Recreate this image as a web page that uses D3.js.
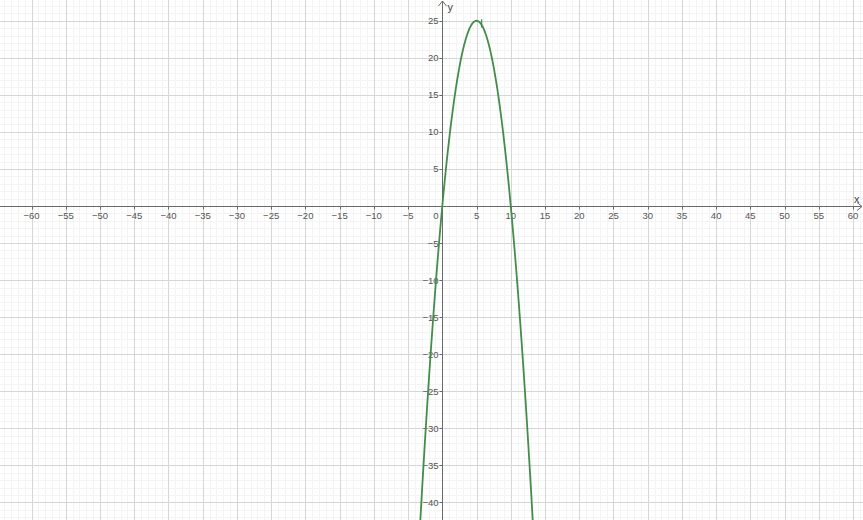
<!DOCTYPE html>
<html><head><meta charset="utf-8">
<script src="https://cdn.jsdelivr.net/npm/d3@7"></script>
<style>html,body{margin:0;padding:0;background:#fff;overflow:hidden}</style>
</head><body>
<svg id="c" width="863" height="520"></svg>
<script>
// Data
const xTicks = [-60,-55,-50,-45,-40,-35,-30,-25,-20,-15,-10,-5,5,10,15,20,25,30,35,40,45,50,55,60];
const yTicks = [25,20,15,10,5,-5,-10,-15,-20,-25,-30,-35,-40];
const coefA = -1, coefB = 10, coefC = 0; // y = -x^2 + 10x
const curveXs = d3.range(-3.4, 13.41, 0.05);
const curveYs = curveXs.map(x => coefA*x*x + coefB*x + coefC);

const W = 863, H = 520;
const x0 = 442.3, kx = 6.846, y0 = 206, ky = 7.41;
const x = d3.scaleLinear().domain([-x0/kx, (W-x0)/kx]).range([0, W]);
const y = d3.scaleLinear().domain([(H-y0)/-ky, y0/ky]).range([H, 0]);

const svg = d3.select("#c");
const [xa, xb] = x.domain(), [ya, yb] = y.domain();

// minor grid
const minorX = d3.range(Math.ceil(xa), Math.floor(xb)+1).filter(v => v % 5 !== 0);
const minorY = d3.range(Math.ceil(ya), Math.floor(yb)+1).filter(v => v % 5 !== 0);
const g = svg.append("g").attr("shape-rendering","crispEdges");
g.selectAll(".mx").data(minorX).enter().append("line")
  .attr("x1", d=>Math.round(x(d))+0.5).attr("x2", d=>Math.round(x(d))+0.5).attr("y1",0).attr("y2",H)
  .attr("stroke","#f4f4f4").attr("stroke-width",1);
g.selectAll(".my").data(minorY).enter().append("line")
  .attr("y1", d=>Math.round(y(d))+0.5).attr("y2", d=>Math.round(y(d))+0.5).attr("x1",0).attr("x2",W)
  .attr("stroke","#f4f4f4").attr("stroke-width",1);
// major grid
const majorX = d3.range(Math.ceil(xa/5)*5, xb+0.001, 5).filter(v=>v!==0);
const majorY = d3.range(Math.ceil(ya/5)*5, yb+0.001, 5).filter(v=>v!==0);
g.selectAll(".Mx").data(majorX).enter().append("line")
  .attr("x1", d=>Math.round(x(d))+0.5).attr("x2", d=>Math.round(x(d))+0.5).attr("y1",0).attr("y2",H)
  .attr("stroke","#d6d6d6").attr("stroke-width",1);
g.selectAll(".My").data(majorY).enter().append("line")
  .attr("y1", d=>Math.round(y(d))+0.5).attr("y2", d=>Math.round(y(d))+0.5).attr("x1",0).attr("x2",W)
  .attr("stroke","#d6d6d6").attr("stroke-width",1);

// axes
const axCol = "#6a6a6a";
const ax = svg.append("g").attr("stroke", axCol).attr("fill","none");
const X0 = Math.round(x(0))+0.5, Y0 = Math.round(y(0))+0.5;
ax.append("line").attr("x1",0).attr("x2",W-1).attr("y1",Y0).attr("y2",Y0);
ax.append("line").attr("x1",X0).attr("x2",X0).attr("y1",1).attr("y2",H);
ax.append("path").attr("d",`M${W-6},${Y0-4}L${W-1},${Y0}L${W-6},${Y0+4}`);
ax.append("path").attr("d",`M${X0-4},${6}L${X0},${1}L${X0+4},${6}`);
// tick marks
ax.selectAll(".tx").data(majorX).enter().append("line")
  .attr("x1",d=>Math.round(x(d))+0.5).attr("x2",d=>Math.round(x(d))+0.5).attr("y1",Y0).attr("y2",Y0+3);
ax.selectAll(".ty").data(majorY).enter().append("line")
  .attr("y1",d=>Math.round(y(d))+0.5).attr("y2",d=>Math.round(y(d))+0.5).attr("x1",X0-3).attr("x2",X0);

// labels
const fmt = v => (v < 0 ? "\u2212" + Math.abs(v) : String(v));
const lab = svg.append("g").attr("font-family","'Liberation Sans', Arial, sans-serif").attr("font-size","9.5px").attr("fill","#555");
lab.selectAll(".lx").data(xTicks).enter().append("text")
  .attr("x", d=>x(d)).attr("y", Y0+12).attr("text-anchor","middle").text(fmt);
lab.selectAll(".ly").data(yTicks).enter().append("text")
  .attr("x", X0-4).attr("y", d=>y(d)+3.5).attr("text-anchor","end").text(fmt);
lab.append("text").attr("x", X0-4).attr("y", Y0+12).attr("text-anchor","end").text("0");
lab.append("text").attr("x", W-9).attr("y", Y0-4).attr("font-size","11px").attr("fill","#444").text("x");
lab.append("text").attr("x", X0+5).attr("y", 11).attr("font-size","11px").attr("fill","#444").text("y");

// curve
const line = d3.line().x((d,i)=>x(curveXs[i])).y((d,i)=>y(curveYs[i]));
svg.append("path").datum(curveYs).attr("d", line)
  .attr("fill","none").attr("stroke","#458c4a").attr("stroke-width",1.8).attr("stroke-linejoin","round");
// small marker near vertex
svg.append("path").attr("d", `M${x(5.75)},${y(24.1)}L${x(5.75)},${y(25.2)}`)
  .attr("stroke","#458c4a").attr("stroke-width",1.2).attr("fill","none");
</script>
</body></html>
